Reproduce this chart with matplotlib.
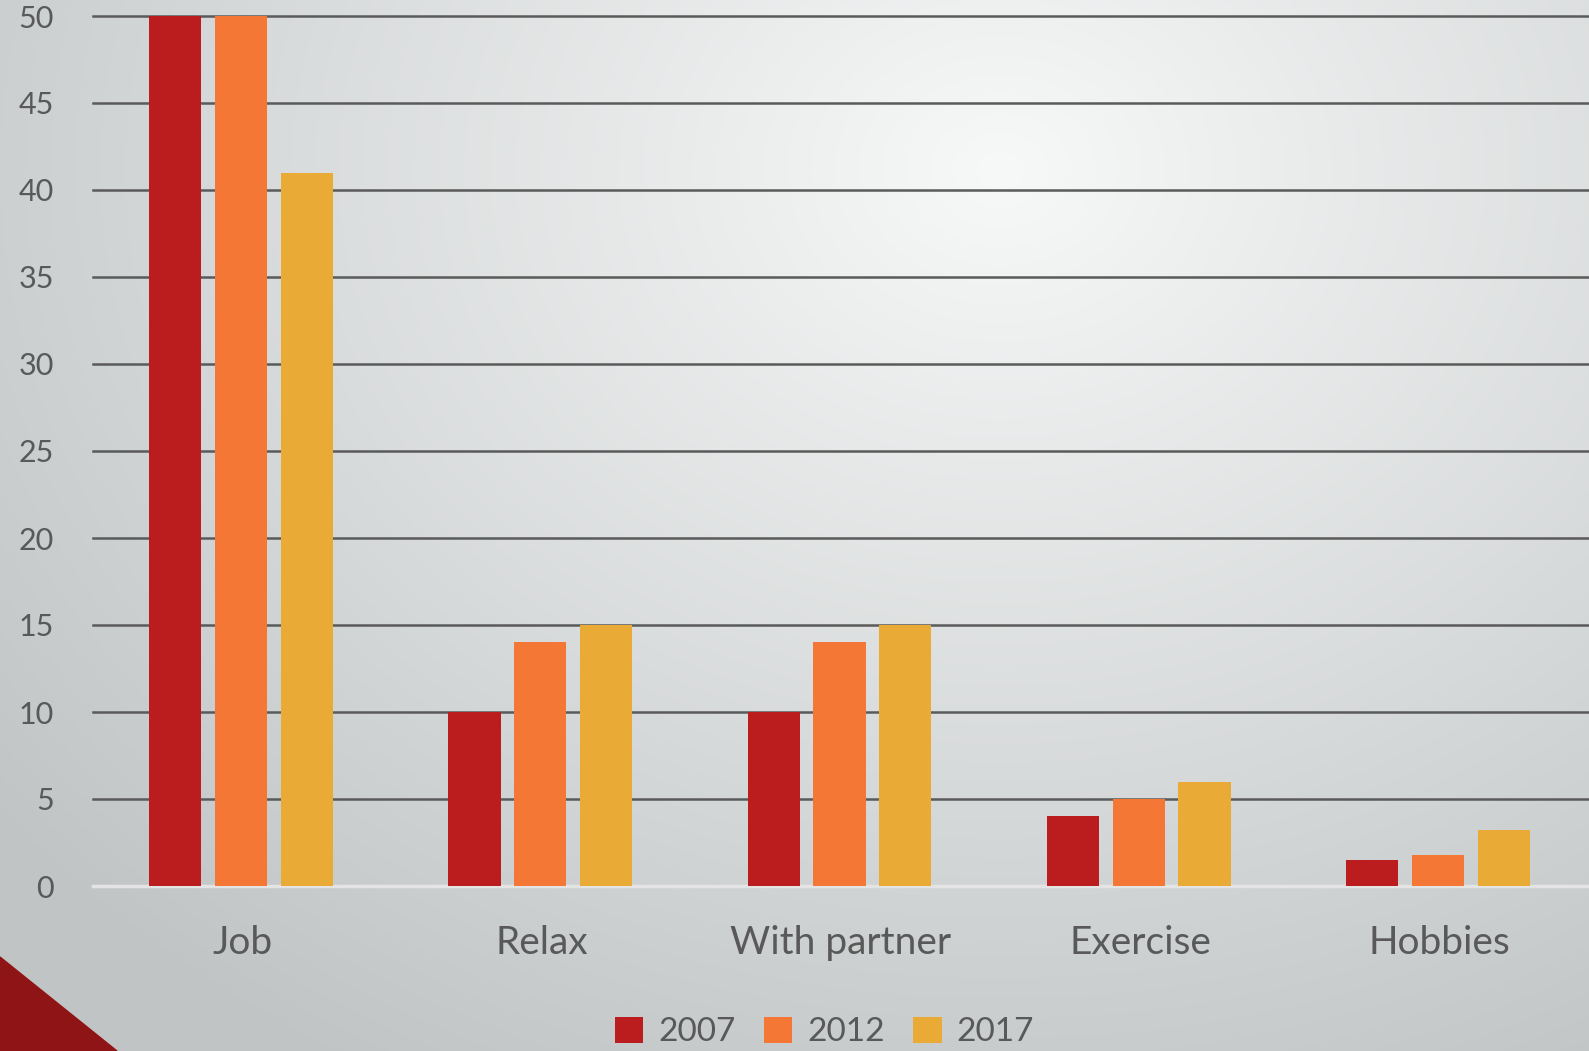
import numpy as np
import matplotlib.pyplot as plt
from matplotlib.colors import to_rgb
from matplotlib.patches import Polygon

categories = ['Job', 'Relax', 'With partner', 'Exercise', 'Hobbies']
years = ['2007', '2012', '2017']
v2007 = [50, 10, 10, 4, 1.5]
v2012 = [50, 14, 14, 5, 1.8]
v2017 = [41, 15, 15, 6, 3.2]
colors = ['#bb1c1e', '#f47735', '#e9ab36']
yticks = [0, 5, 10, 15, 20, 25, 30, 35, 40, 45, 50]

plt.rcParams['font.family'] = ['Lato', 'DejaVu Sans']
txt = '#595959'

fig = plt.figure(figsize=(15.89, 10.51), dpi=100)

# radial grey background
bg = fig.add_axes([0, 0, 1, 1], zorder=-5)
h, w = 1051, 1589
yy, xx = np.mgrid[0:h, 0:w]
d = np.sqrt(((xx - 1000) / 1300.0) ** 2 + ((yy - 170) / 1050.0) ** 2)
d = np.clip(d, 0, 1)
c0 = np.array(to_rgb('#f7f8f8'))
c1 = np.array(to_rgb('#c0c4c5'))
img = c0[None, None, :] * (1 - d[..., None]) + c1[None, None, :] * d[..., None]
bg.imshow(img, aspect='auto', extent=[0, 1, 0, 1], origin='upper')
bg.add_patch(Polygon([[0, 0], [0, 94 / 1051], [117 / 1589, 0]], closed=True,
                     color='#8f1416', transform=bg.transAxes))
bg.set_xlim(0, 1)
bg.set_ylim(0, 1)
bg.axis('off')

ax = fig.add_axes([93 / 1589, 1 - 886 / 1051, 1 - 93 / 1589, 870 / 1051])
ax.patch.set_alpha(0)
x = np.arange(len(categories))
bw = 0.174
step = 0.22
for i, (vals, col, yr) in enumerate(zip([v2007, v2012, v2017], colors, years)):
    ax.bar(x + (i - 1) * step - 0.005, vals, bw, color=col, label=yr, zorder=3)

ax.set_xlim(-0.5, 4.5)
ax.set_ylim(0, 50)
ax.set_yticks(yticks)
ax.set_yticklabels([str(t) for t in yticks])
ax.set_xticks(x)
ax.set_xticklabels(categories)
for s in ax.spines.values():
    s.set_visible(False)
ax.tick_params(axis='both', length=0, colors=txt)
ax.tick_params(axis='y', labelsize=22, pad=28)
ax.tick_params(axis='x', labelsize=28, pad=28)
ax.yaxis.grid(True, color='#5a5a5a', linewidth=1.8, zorder=1)
ax.set_axisbelow(True)
for ln in ax.get_ygridlines():
    ln.set_clip_on(False)
ax.axhline(0, color='#e4e4e4', linewidth=2.5, zorder=2.5, clip_on=False)

leg = fig.legend(loc='center', bbox_to_anchor=(0.519, 1 - 1032 / 1051), ncol=3,
                 frameon=False, fontsize=24, handlelength=0.85, handleheight=0.85,
                 handletextpad=0.45, columnspacing=0.85, labelcolor=txt)

fig.savefig('out.png', dpi=100)
